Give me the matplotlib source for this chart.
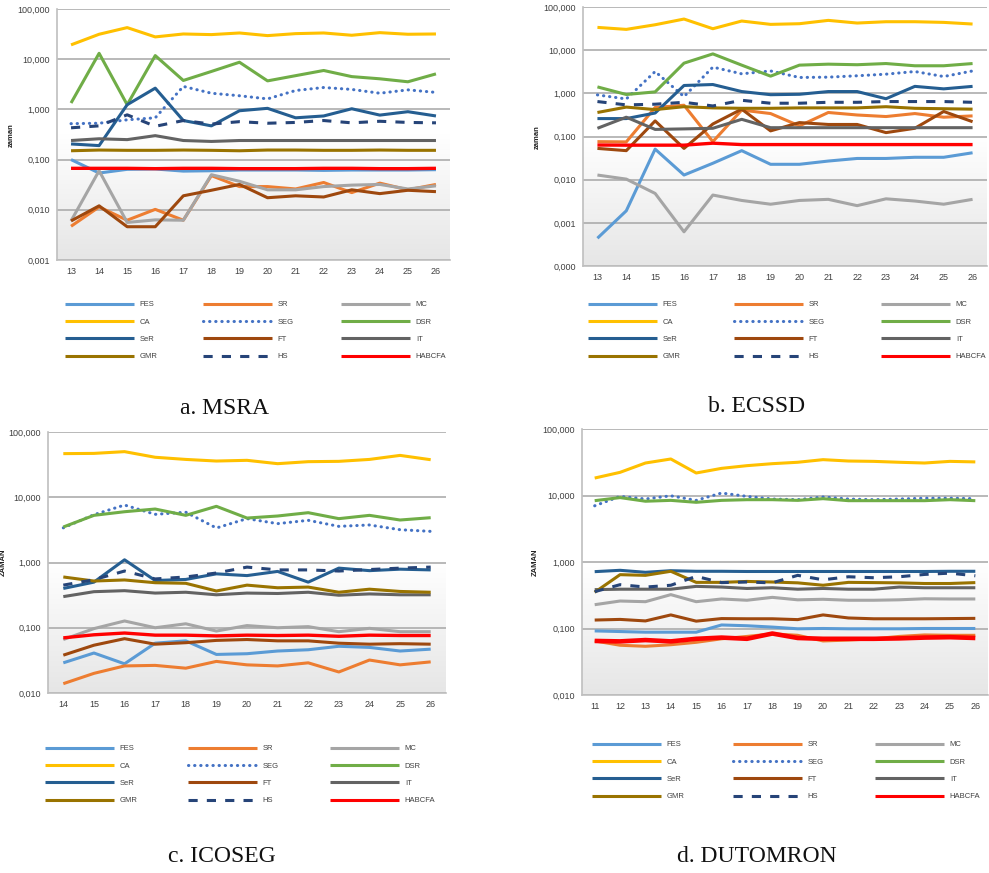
import numpy as np
import matplotlib
matplotlib.use("Agg")
import matplotlib.pyplot as plt
from matplotlib.colors import LinearSegmentedColormap
from matplotlib.lines import Line2D

W, H = 989, 873

methods = ["FES", "SR", "MC", "CA", "SEG", "DSR", "SeR", "FT", "IT", "GMR", "HS", "HABCFA"]
colors = {"FES": "#5B9BD5", "SR": "#ED7D31", "MC": "#A5A5A5", "CA": "#FFC000",
          "SEG": "#4472C4", "DSR": "#70AD47", "SeR": "#255E91", "FT": "#9E480E",
          "IT": "#636363", "GMR": "#997300", "HS": "#264478", "HABCFA": "#FF0000"}

# a. MSRA
msra_x = [13, 14, 15, 16, 17, 18, 19, 20, 21, 22, 23, 24, 25, 26]
msra = {
    "FES": [0.100, 0.054, 0.064, 0.065, 0.059, 0.060, 0.062, 0.062, 0.062, 0.061, 0.062, 0.062, 0.062, 0.063],
    "SR": [0.0047, 0.0114, 0.0062, 0.0102, 0.0062, 0.048, 0.029, 0.029, 0.026, 0.035, 0.022, 0.034, 0.025, 0.032],
    "MC": [0.0060, 0.060, 0.0056, 0.0063, 0.0062, 0.050, 0.037, 0.025, 0.025, 0.029, 0.031, 0.032, 0.026, 0.030],
    "CA": [19.3, 31.4, 42.6, 27.8, 31.8, 30.9, 33.3, 29.5, 32.3, 33.3, 30.0, 33.8, 31.4, 31.8],
    "SEG": [0.52, 0.53, 0.62, 0.68, 2.87, 2.10, 1.87, 1.62, 2.38, 2.73, 2.50, 2.10, 2.45, 2.18],
    "DSR": [1.34, 13.1, 1.24, 11.8, 3.77, 5.7, 8.7, 3.7, 4.7, 5.96, 4.5, 4.07, 3.55, 5.1],
    "SeR": [0.205, 0.19, 1.24, 2.65, 0.60, 0.47, 0.94, 1.05, 0.68, 0.74, 1.03, 0.77, 0.90, 0.74],
    "FT": [0.0060, 0.012, 0.0046, 0.0046, 0.019, 0.0245, 0.032, 0.0174, 0.019, 0.018, 0.025, 0.021, 0.0245, 0.023],
    "IT": [0.24, 0.26, 0.25, 0.30, 0.24, 0.23, 0.24, 0.24, 0.24, 0.24, 0.24, 0.24, 0.24, 0.24],
    "GMR": [0.150, 0.155, 0.153, 0.153, 0.155, 0.153, 0.150, 0.155, 0.155, 0.153, 0.153, 0.155, 0.153, 0.153],
    "HS": [0.43, 0.47, 0.78, 0.46, 0.60, 0.51, 0.57, 0.53, 0.55, 0.60, 0.54, 0.58, 0.55, 0.54],
    "HABCFA": [0.067, 0.067, 0.067, 0.066, 0.067, 0.067, 0.066, 0.066, 0.066, 0.067, 0.067, 0.066, 0.066, 0.067],
}

# b. ECSSD
ecssd_x = [13, 14, 15, 16, 17, 18, 19, 20, 21, 22, 23, 24, 25, 26]
ecssd = {
    "FES": [0.00044, 0.0019, 0.051, 0.0128, 0.024, 0.047, 0.0227, 0.0227, 0.027, 0.031, 0.031, 0.033, 0.033, 0.042],
    "SR": [0.076, 0.075, 0.47, 0.53, 0.076, 0.41, 0.34, 0.176, 0.36, 0.315, 0.29, 0.34, 0.28, 0.30],
    "MC": [0.0128, 0.0103, 0.0048, 0.00062, 0.0044, 0.0033, 0.0027, 0.0033, 0.0035, 0.0025, 0.0036, 0.0032, 0.0027, 0.0035],
    "CA": [33.7, 30.3, 38.8, 52.6, 31.4, 47.3, 39.6, 41.0, 49.0, 42.5, 45.6, 45.6, 44.0, 40.3],
    "SEG": [0.92, 0.74, 3.2, 0.84, 4.05, 2.83, 3.3, 2.33, 2.37, 2.55, 2.78, 3.2, 2.45, 3.3],
    "DSR": [1.41, 0.94, 1.08, 5.0, 8.2, 4.5, 2.5, 4.5, 4.74, 4.6, 4.9, 4.35, 4.35, 4.9],
    "SeR": [0.26, 0.26, 0.35, 1.52, 1.6, 1.1, 0.93, 0.95, 1.1, 1.1, 0.75, 1.45, 1.27, 1.45],
    "FT": [0.053, 0.047, 0.23, 0.053, 0.195, 0.43, 0.135, 0.21, 0.19, 0.19, 0.123, 0.155, 0.38, 0.22],
    "IT": [0.155, 0.28, 0.146, 0.15, 0.155, 0.25, 0.16, 0.16, 0.16, 0.16, 0.16, 0.16, 0.16, 0.16],
    "GMR": [0.36, 0.48, 0.42, 0.49, 0.46, 0.45, 0.45, 0.46, 0.46, 0.46, 0.49, 0.45, 0.44, 0.43],
    "HS": [0.645, 0.54, 0.56, 0.62, 0.51, 0.69, 0.59, 0.59, 0.62, 0.62, 0.645, 0.645, 0.645, 0.62],
    "HABCFA": [0.0635, 0.063, 0.063, 0.063, 0.070, 0.065, 0.065, 0.065, 0.065, 0.065, 0.065, 0.065, 0.065, 0.065],
}

# c. ICOSEG
icoseg_x = [14, 15, 16, 17, 18, 19, 20, 21, 22, 23, 24, 25, 26]
icoseg = {
    "FES": [0.029, 0.041, 0.028, 0.058, 0.063, 0.039, 0.040, 0.044, 0.046, 0.052, 0.050, 0.044, 0.047],
    "SR": [0.0139, 0.020, 0.026, 0.0265, 0.024, 0.0305, 0.027, 0.026, 0.029, 0.021, 0.032, 0.027, 0.030],
    "MC": [0.066, 0.097, 0.127, 0.100, 0.115, 0.089, 0.108, 0.100, 0.104, 0.087, 0.098, 0.087, 0.087],
    "CA": [46.6, 47.0, 50.0, 41.0, 38.0, 35.9, 36.8, 32.7, 35.1, 35.5, 38.0, 43.8, 37.6],
    "SEG": [3.4, 5.4, 7.6, 5.47, 5.9, 3.38, 4.7, 3.94, 4.43, 3.58, 3.76, 3.18, 3.0],
    "DSR": [3.5, 5.28, 6.0, 6.6, 5.28, 7.26, 4.8, 5.16, 5.8, 4.7, 5.28, 4.48, 4.86],
    "SeR": [0.40, 0.50, 1.10, 0.53, 0.55, 0.67, 0.63, 0.73, 0.50, 0.82, 0.75, 0.79, 0.77],
    "FT": [0.038, 0.054, 0.068, 0.056, 0.059, 0.064, 0.066, 0.063, 0.063, 0.058, 0.056, 0.057, 0.056],
    "IT": [0.30, 0.357, 0.37, 0.34, 0.35, 0.32, 0.34, 0.335, 0.35, 0.315, 0.33, 0.32, 0.32],
    "GMR": [0.60, 0.52, 0.54, 0.49, 0.48, 0.366, 0.45, 0.41, 0.42, 0.35, 0.39, 0.36, 0.35],
    "HS": [0.45, 0.545, 0.74, 0.56, 0.60, 0.69, 0.85, 0.77, 0.77, 0.74, 0.78, 0.82, 0.85],
    "HABCFA": [0.070, 0.078, 0.083, 0.077, 0.077, 0.075, 0.077, 0.076, 0.077, 0.074, 0.077, 0.076, 0.076],
}

# d. DUTOMRON
dut_x = [11, 12, 13, 14, 15, 16, 17, 18, 19, 20, 21, 22, 23, 24, 25, 26]
dut = {
    "FES": [0.092, 0.090, 0.088, 0.088, 0.088, 0.113, 0.110, 0.105, 0.099, 0.100, 0.099, 0.099, 0.099, 0.100, 0.100, 0.100],
    "SR": [0.065, 0.056, 0.054, 0.057, 0.062, 0.070, 0.076, 0.083, 0.079, 0.065, 0.067, 0.070, 0.076, 0.080, 0.079, 0.079],
    "MC": [0.228, 0.259, 0.253, 0.323, 0.253, 0.278, 0.266, 0.294, 0.270, 0.275, 0.266, 0.266, 0.270, 0.280, 0.278, 0.278],
    "CA": [18.3, 22.3, 30.8, 35.4, 21.8, 25.6, 28.1, 30.1, 31.6, 34.6, 33.0, 32.6, 31.6, 30.8, 32.6, 32.0],
    "SEG": [7.0, 9.7, 8.86, 9.9, 8.45, 10.9, 9.7, 8.86, 8.65, 9.5, 8.86, 8.65, 8.86, 9.1, 9.1, 8.96],
    "DSR": [8.36, 9.3, 8.2, 8.45, 7.9, 8.45, 8.65, 8.65, 8.45, 8.96, 8.36, 8.36, 8.36, 8.36, 8.65, 8.36],
    "SeR": [0.716, 0.75, 0.70, 0.74, 0.725, 0.725, 0.72, 0.72, 0.72, 0.72, 0.72, 0.72, 0.72, 0.72, 0.725, 0.725],
    "FT": [0.134, 0.137, 0.130, 0.160, 0.129, 0.141, 0.140, 0.140, 0.136, 0.160, 0.144, 0.140, 0.140, 0.140, 0.141, 0.142],
    "IT": [0.384, 0.39, 0.39, 0.39, 0.43, 0.42, 0.40, 0.41, 0.39, 0.40, 0.39, 0.39, 0.42, 0.41, 0.41, 0.41],
    "GMR": [0.35, 0.645, 0.63, 0.725, 0.494, 0.494, 0.51, 0.50, 0.486, 0.447, 0.494, 0.49, 0.486, 0.475, 0.475, 0.49],
    "HS": [0.358, 0.456, 0.42, 0.447, 0.608, 0.49, 0.50, 0.486, 0.63, 0.54, 0.60, 0.58, 0.60, 0.65, 0.68, 0.62],
    "HABCFA": [0.065, 0.064, 0.067, 0.064, 0.070, 0.073, 0.070, 0.084, 0.072, 0.070, 0.070, 0.070, 0.071, 0.073, 0.074, 0.072],
}

tick_text = {100: "100,000", 10: "10,000", 1: "1,000", 0.1: "0,100",
             0.01: "0,010", 0.001: "0,001", 0.0001: "0,000"}

LW = 2.2
TXT = "#404040"


def style_for(m):
    if m == "SEG":
        return dict(linestyle=(0, (0.1, 1.9)), dash_capstyle="round")
    if m == "HS":
        return dict(linestyle=(0, (3, 3)), dash_capstyle="butt")
    return dict(linestyle="-", solid_capstyle="butt")


def px_axes(x0, y0, x1, y1):
    return [x0 / W, 1 - y1 / H, (x1 - x0) / W, (y1 - y0) / H]


grad = LinearSegmentedColormap.from_list("g", ["#ffffff", "#ffffff", "#e6e6e6"])

fig = plt.figure(figsize=(W / 100, H / 100), dpi=100)
plt.rcParams["font.family"] = "Liberation Sans"

panels = [
    (msra_x, msra, (57, 9, 450, 260), 0.001, "zaman", (11, 135), 2.4),
    (ecssd_x, ecssd, (583, 7, 987, 266), 0.0001, "zaman", (537, 137), 2.4),
    (icoseg_x, icoseg, (48, 432, 446, 693), 0.01, "ZAMAN", (3, 562), 2.4),
    (dut_x, dut, (582, 429, 988, 695), 0.01, "ZAMAN", (535, 562), 3.3),
]

for xs, data, box, ymin, ylab, lab_pos, red_lw in panels:
    rect = px_axes(*box)
    bg = fig.add_axes(rect, zorder=0)
    bg.imshow(np.linspace(0, 1, 256).reshape(-1, 1), cmap=grad, aspect="auto",
              extent=[0, 1, 0, 1])
    bg.axis("off")

    ax = fig.add_axes(rect, zorder=1)
    ax.patch.set_alpha(0)
    for m in methods:
        lw = red_lw if m == "HABCFA" else LW
        ax.plot(xs, data[m], color=colors[m], lw=lw, **style_for(m))
    ax.set_yscale("log")
    ax.set_ylim(ymin, 100)
    ax.set_xlim(xs[0] - 0.5, xs[-1] + 0.5)
    yt = [v for v in [0.0001, 0.001, 0.01, 0.1, 1, 10, 100] if v >= ymin]
    ax.set_yticks(yt)
    ax.set_yticklabels([tick_text[v] for v in yt])
    ax.yaxis.set_minor_locator(matplotlib.ticker.NullLocator())
    ax.set_xticks(xs)
    ax.set_xticklabels([str(v) for v in xs])
    ax.tick_params(length=0, labelsize=6.5, colors=TXT, pad=5)
    ax.grid(axis="y", color="#a6a6a6", lw=1.1)
    ax.set_axisbelow(True)
    for s in ["top", "right"]:
        ax.spines[s].set_visible(False)
    for s in ["left", "bottom"]:
        ax.spines[s].set_color("#bfbfbf")
        ax.spines[s].set_linewidth(1.2)
    fig.text(lab_pos[0] / W, 1 - lab_pos[1] / H, ylab, rotation=90, fontsize=5.5,
             fontweight="bold", color="#222222", ha="center", va="center")

# legends: three columns each, placed under every panel
legend_cols = [
    ["FES", "CA", "SeR", "GMR"],
    ["SR", "SEG", "FT", "HS"],
    ["MC", "DSR", "IT", "HABCFA"],
]
legend_pos = [
    ([65, 203, 341], 301),
    ([588, 734, 881], 301),
    ([45, 188, 330], 745),
    ([592, 733, 875], 741),
]
for starts, ytop in legend_pos:
    for col, x0 in zip(legend_cols, starts):
        handles = [Line2D([], [], color=colors[m], lw=LW, **style_for(m)) for m in col]
        fig.legend(handles, col, loc="upper left",
                   bbox_to_anchor=(x0 / W, 1 - ytop / H), frameon=False,
                   fontsize=5.5, handlelength=9.0, handletextpad=0.8,
                   labelspacing=1.3, borderpad=0, borderaxespad=0,
                   labelcolor=TXT)

captions = [("a. MSRA", 224, 408), ("b. ECSSD", 757, 407),
            ("c. ICOSEG", 222, 856), ("d. DUTOMRON", 757, 856)]
for txt, cx, cy in captions:
    fig.text(cx / W, 1 - cy / H, txt, fontsize=17, family="Liberation Serif",
             ha="center", va="center", color="#111111")

plt.savefig("out.png", dpi=100)
